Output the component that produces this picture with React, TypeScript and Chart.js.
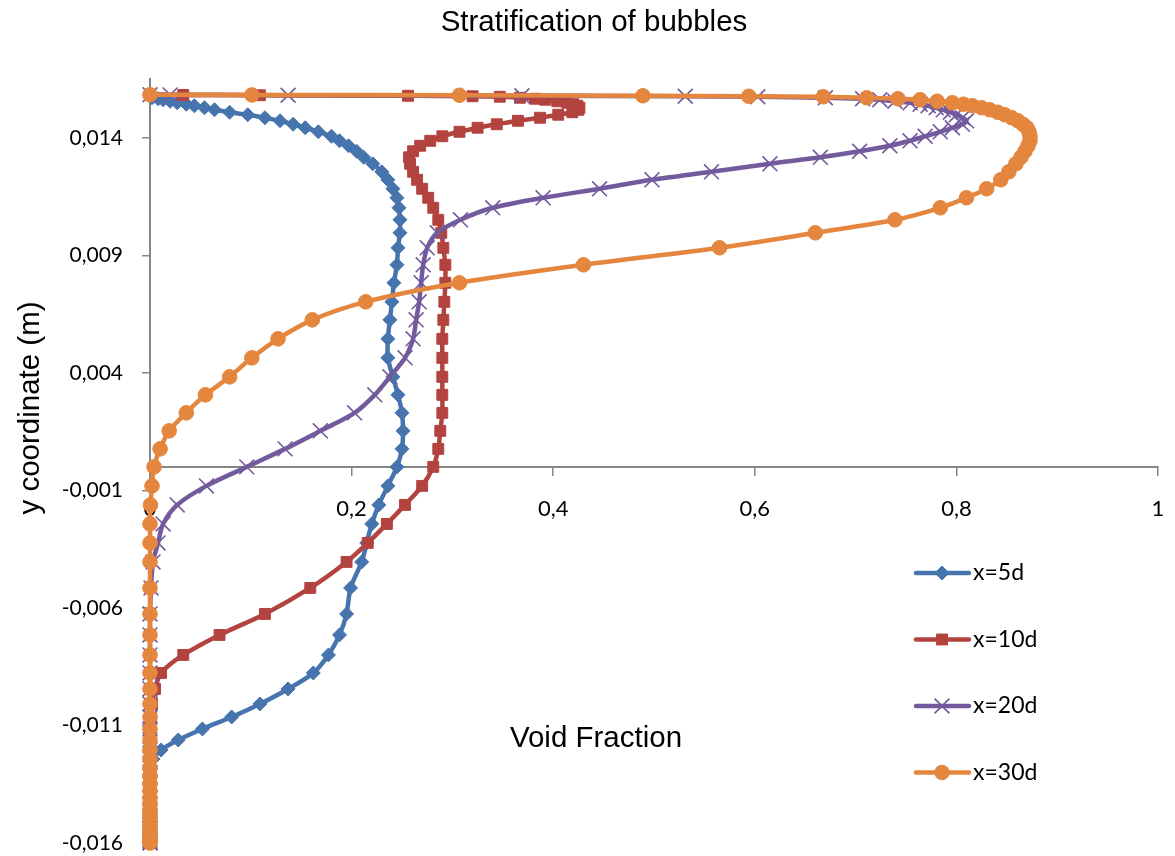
import React, { useEffect, useRef } from 'react';
import { Chart, registerables } from 'chart.js';
import { drawPoint } from 'chart.js/helpers';

Chart.register(...registerables);

// Shared y positions of the sampled profile (m)
const yMesh = [
  0.01583, 0.015821, 0.015809, 0.015787, 0.015766, 0.015745, 0.015702, 0.01566, 0.015617, 0.015553,
  0.015489, 0.015426, 0.015362, 0.015277, 0.015191, 0.015085, 0.014979, 0.014851, 0.014723, 0.014574,
  0.014426, 0.014255, 0.014064, 0.013872, 0.01366, 0.013426, 0.01317, 0.012894, 0.012553, 0.012213,
  0.01183, 0.011447, 0.011021, 0.010511, 0.009957, 0.009319, 0.008596, 0.00783, 0.007021, 0.006255,
  0.005447, 0.004638, 0.00383, 0.003064, 0.002298, 0.001532, 0.000766, 0, -0.000809, -0.001617,
  -0.002426, -0.003234, -0.004043, -0.005149, -0.006255, -0.007149, -0.008, -0.008766, -0.009447, -0.010085,
  -0.010638, -0.011149, -0.011617, -0.012043, -0.012426, -0.012809, -0.013149, -0.013489, -0.013787, -0.014085,
  -0.01434, -0.014596, -0.014809, -0.015021, -0.015234, -0.015404, -0.015574, -0.015702, -0.01583, -0.015915,
  -0.01597, -0.016,
];

// Void fraction, x=5d
const voidX5d = [
  0, 0, 0.0005, 0.001, 0.0015, 0.002, 0.002, 0.008, 0.013, 0.02,
  0.027, 0.036, 0.044, 0.054, 0.064, 0.079, 0.097, 0.114, 0.129, 0.142,
  0.154, 0.167, 0.18, 0.188, 0.197, 0.205, 0.212, 0.221, 0.23, 0.236,
  0.241, 0.245, 0.247, 0.248, 0.248, 0.246, 0.245, 0.242, 0.24, 0.238,
  0.236, 0.236, 0.241, 0.246, 0.25, 0.251, 0.25, 0.245, 0.236, 0.227,
  0.22, 0.215, 0.21, 0.199, 0.195, 0.188, 0.177, 0.162, 0.137, 0.109,
  0.081, 0.052, 0.028, 0.011, 0.003, 0.001, 0, 0, 0, 0,
  0, 0, 0, 0, 0, 0, 0, 0, 0, 0,
  0, 0,
];

// Void fraction, x=10d
const voidX10d = [
  0, 0.033, 0.109, 0.256, 0.32, 0.347, 0.367, 0.382, 0.392, 0.404,
  0.414, 0.42, 0.424, 0.426, 0.425, 0.419, 0.405, 0.387, 0.365, 0.344,
  0.325, 0.307, 0.29, 0.278, 0.268, 0.261, 0.257, 0.258, 0.261, 0.265,
  0.27, 0.276, 0.281, 0.286, 0.289, 0.291, 0.293, 0.293, 0.292, 0.291,
  0.29, 0.29, 0.29, 0.29, 0.29, 0.288, 0.286, 0.281, 0.27, 0.253,
  0.235, 0.216, 0.195, 0.159, 0.114, 0.069, 0.033, 0.011, 0.005, 0.002,
  0.001, 0, 0, 0, 0, 0, 0, 0, 0, 0,
  0, 0, 0, 0, 0, 0, 0, 0, 0, 0,
  0, 0,
];

// Void fraction, x=20d
const voidX20d = [
  0, 0.02, 0.137, 0.369, 0.531, 0.603, 0.67, 0.707, 0.724, 0.739,
  0.754, 0.764, 0.772, 0.78, 0.787, 0.794, 0.8, 0.806, 0.81, 0.806,
  0.796, 0.784, 0.769, 0.754, 0.734, 0.704, 0.665, 0.615, 0.557, 0.498,
  0.446, 0.39, 0.34, 0.308, 0.285, 0.275, 0.271, 0.269, 0.267, 0.264,
  0.261, 0.253, 0.238, 0.223, 0.203, 0.169, 0.134, 0.096, 0.056, 0.027,
  0.013, 0.008, 0.003, 0.001, 0, 0, 0, 0, 0, 0,
  0, 0, 0, 0, 0, 0, 0, 0, 0, 0,
  0, 0, 0, 0, 0, 0, 0, 0, 0, 0,
  0, 0,
];

// Void fraction, x=30d
const voidX30d = [
  0, 0.101, 0.307, 0.489, 0.594, 0.668, 0.711, 0.742, 0.764, 0.781,
  0.796, 0.807, 0.816, 0.825, 0.833, 0.841, 0.848, 0.855, 0.861, 0.866,
  0.87, 0.872, 0.873, 0.873, 0.871, 0.868, 0.864, 0.859, 0.852, 0.844,
  0.83, 0.81, 0.784, 0.739, 0.66, 0.565, 0.43, 0.307, 0.214, 0.161,
  0.127, 0.101, 0.079, 0.055, 0.036, 0.019, 0.01, 0.004, 0.002, 0.0005,
  0, 0, 0, 0, 0, 0, 0, 0, 0, 0,
  0, 0, 0, 0, 0, 0, 0, 0, 0, 0,
  0, 0, 0, 0, 0, 0, 0, 0, 0, 0,
  0, 0,
];

const seriesLabels = ['x=5d', 'x=10d', 'x=20d', 'x=30d'];
const yTickValues = [-0.016, -0.011, -0.006, -0.001, 0.004, 0.009, 0.014];
const xTickValues = [0, 0.2, 0.4, 0.6, 0.8, 1];
const chartTitle = 'Stratification of bubbles';
const xAxisTitle = 'Void Fraction';
const yAxisTitle = 'y coordinate (m)';

const COLORS = ['#4674AD', '#B3433F', '#735A9C', '#E4863D'];
const AXIS_COLOR = '#868686';

const toPoints = (xs: number[]) => xs.map((x, i) => ({ x, y: yMesh[i] }));
const fmtComma = (v: number, digits: number) => Number(v).toFixed(digits).replace('.', ',');

const textPlugin = {
  id: 'customTexts',
  afterDatasetsDraw(chart: any) {
    const ctx = chart.ctx as CanvasRenderingContext2D;
    ctx.save();
    ctx.fillStyle = '#000';
    ctx.textAlign = 'center';
    ctx.textBaseline = 'middle';
    ctx.font = '29.5px "Liberation Sans", Arial, sans-serif';
    ctx.fillText(chartTitle, 594, 23);
    ctx.fillText(xAxisTitle, 596, 739);
    ctx.translate(31, 408);
    ctx.rotate(-Math.PI / 2);
    ctx.fillText(yAxisTitle, 0, 0);
    ctx.restore();

    // legend
    const legendTop = 573;
    const legendGap = 66.5;
    chart.data.datasets.forEach((ds: any, i: number) => {
      const y = legendTop + i * legendGap;
      ctx.save();
      ctx.strokeStyle = ds.borderColor;
      ctx.lineWidth = 4.5;
      ctx.lineCap = 'round';
      ctx.beginPath();
      ctx.moveTo(916, y);
      ctx.lineTo(969, y);
      ctx.stroke();
      ctx.fillStyle = ds.pointBackgroundColor;
      ctx.strokeStyle = ds.pointBorderColor;
      ctx.lineWidth = ds.pointBorderWidth;
      ctx.lineCap = 'butt';
      drawPoint(ctx, {
        pointStyle: ds.pointStyle,
        radius: ds.pointRadius,
        rotation: 0,
        borderWidth: ds.pointBorderWidth,
      } as any, 942, y);
      ctx.fillStyle = '#000';
      ctx.font = '23px Lato, "Noto Sans", sans-serif';
      ctx.textAlign = 'left';
      ctx.textBaseline = 'middle';
      ctx.fillText(ds.label, 973, y);
      ctx.restore();
    });
  },
};

export default function App() {
  const canvasRef = useRef<HTMLCanvasElement | null>(null);

  useEffect(() => {
    if (!canvasRef.current) return;
    const series = [voidX5d, voidX10d, voidX20d, voidX30d];
    const styles = [
      { pointStyle: 'rectRot', pointRadius: 7, pointBorderWidth: 1 },
      { pointStyle: 'rect', pointRadius: 7.7, pointBorderWidth: 1 },
      { pointStyle: 'crossRot', pointRadius: 10.5, pointBorderWidth: 1.6 },
      { pointStyle: 'circle', pointRadius: 7.3, pointBorderWidth: 1 },
    ];
    const chart = new Chart(canvasRef.current, {
      type: 'scatter',
      data: {
        datasets: series.map((xs, i) => ({
          label: seriesLabels[i],
          data: toPoints(xs),
          showLine: true,
          borderColor: COLORS[i],
          backgroundColor: COLORS[i],
          pointBackgroundColor: COLORS[i],
          pointBorderColor: COLORS[i],
          borderWidth: 4.5,
          tension: 0.3,
          clip: false,
          order: 4 - i,
          ...styles[i],
        })) as any,
      },
      options: {
        responsive: false,
        devicePixelRatio: 1,
        animation: false,
        layout: { padding: { left: 0, right: 17, top: 79, bottom: 13 } },
        plugins: {
          legend: { display: false },
          tooltip: { enabled: false },
          title: { display: false },
        },
        scales: {
          x: {
            type: 'linear',
            position: { y: 0 } as any,
            min: 0,
            max: 1,
            afterBuildTicks: (scale: any) => {
              scale.ticks = xTickValues.map((v) => ({ value: v }));
            },
            afterFit: (scale: any) => {
              scale.paddingLeft = 0;
              scale.paddingRight = 0;
            },
            ticks: {
              callback: (v: any) => (v === 0 || v === 1 ? String(v) : fmtComma(v, 1)),
              font: { family: 'Lato', size: 22 },
              color: '#000',
              padding: 21,
              maxRotation: 0,
              autoSkip: false,
            },
            grid: { drawOnChartArea: false, drawTicks: true, tickLength: 8, color: AXIS_COLOR, lineWidth: 1.5 },
            border: { color: AXIS_COLOR, width: 2 },
          },
          y: {
            type: 'linear',
            position: 'left',
            min: -0.016,
            max: 0.0165,
            afterBuildTicks: (scale: any) => {
              scale.ticks = yTickValues.map((v) => ({ value: v }));
            },
            afterFit: (scale: any) => {
              scale.width = 150;
              scale.paddingTop = 0;
              scale.paddingBottom = 0;
            },
            ticks: {
              callback: (v: any) => fmtComma(v, 3),
              font: { family: 'Lato', size: 21 },
              color: '#000',
              padding: 19,
              autoSkip: false,
            },
            grid: { drawOnChartArea: false, drawTicks: true, tickLength: 8, color: AXIS_COLOR, lineWidth: 1.5 },
            border: { color: AXIS_COLOR, width: 2 },
          },
        },
      },
      plugins: [textPlugin],
    });
    return () => chart.destroy();
  }, []);

  return (
    <div style={{ position: 'absolute', left: 0, top: 0, width: 1175, height: 856, background: '#fff' }}>
      <canvas ref={canvasRef} width={1175} height={856} />
    </div>
  );
}
